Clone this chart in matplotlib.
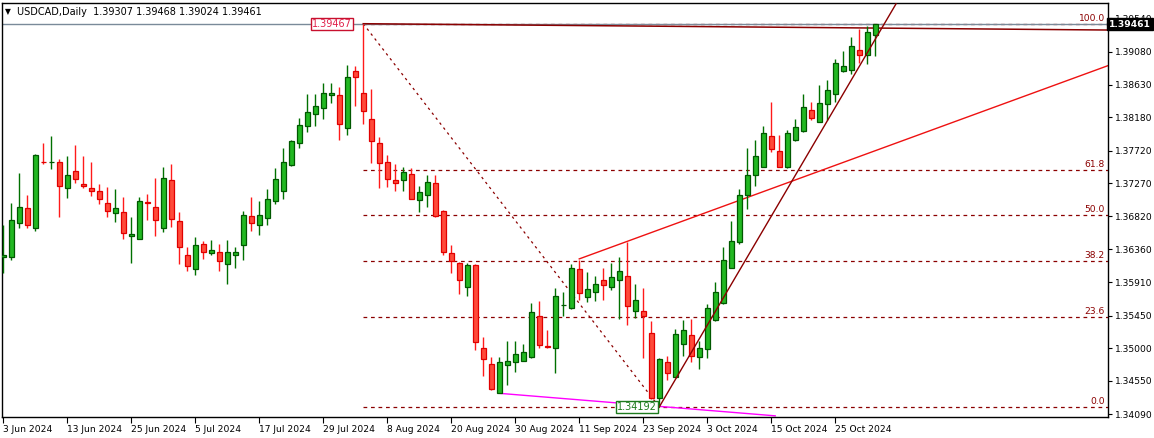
import matplotlib
matplotlib.use("Agg")
import matplotlib.pyplot as plt
import numpy as np
import pandas as pd

dates = pd.bdate_range("2024-06-03", periods=110)
opens = [1.3625,1.3625,1.3673,1.3693,1.3666,1.3757,1.3756,1.3757,1.3720,1.3744,
         1.3726,1.3720,1.3716,1.3700,1.3686,1.3687,1.3654,1.3650,1.3701,1.3695,
         1.3666,1.3731,1.3675,1.3629,1.3609,1.3643,1.3631,1.3633,1.3616,1.3629,
         1.3642,1.3682,1.3669,1.3679,1.3702,1.3716,1.3752,1.3782,1.3806,1.3822,
         1.3830,1.3848,1.3848,1.3803,1.3881,1.3851,1.3816,1.3783,1.3757,1.3731,
         1.3732,1.3740,1.3704,1.3711,1.3727,1.3689,1.3631,1.3617,1.3584,1.3614,
         1.3500,1.3479,1.3439,1.3477,1.3481,1.3483,1.3488,1.3544,1.3503,1.3500,
         1.3559,1.3556,1.3609,1.3570,1.3578,1.3594,1.3584,1.3594,1.3599,1.3551,
         1.3551,1.3521,1.3431,1.3481,1.3461,1.3506,1.3518,1.3488,1.3499,1.3539,
         1.3562,1.3611,1.3646,1.3711,1.3738,1.3750,1.3792,1.3772,1.3749,1.3786,
         1.3799,1.3828,1.3812,1.3836,1.3850,1.3881,1.3883,1.3910,1.3904,1.39307]
highs = [1.3670,1.3700,1.3741,1.3711,1.3767,1.3782,1.3792,1.3760,1.3765,1.3780,
         1.3765,1.3756,1.3726,1.3722,1.3719,1.3708,1.3681,1.3708,1.3712,1.3734,
         1.3749,1.3754,1.3687,1.3640,1.3653,1.3647,1.3649,1.3643,1.3649,1.3639,
         1.3689,1.3708,1.3702,1.3719,1.3748,1.3776,1.3786,1.3817,1.3850,1.3850,
         1.3865,1.3865,1.3859,1.3890,1.3888,1.39467,1.3857,1.3791,1.3766,1.3753,
         1.3749,1.3748,1.3724,1.3739,1.3738,1.3690,1.3642,1.3619,1.3618,1.3616,
         1.3515,1.3488,1.3488,1.3510,1.3510,1.3506,1.3562,1.3565,1.3525,1.3583,
         1.3577,1.3616,1.3622,1.3605,1.3600,1.3610,1.3617,1.3625,1.3646,1.3589,
         1.3583,1.3537,1.3486,1.3489,1.3526,1.3539,1.3540,1.3510,1.3561,1.3591,
         1.3639,1.3675,1.3719,1.3776,1.3786,1.3806,1.3839,1.3793,1.3801,1.3815,
         1.3850,1.3839,1.3863,1.3869,1.3898,1.3909,1.3929,1.3940,1.3944,1.39468]
lows = [1.3603,1.3621,1.3665,1.3665,1.3662,1.3753,1.3747,1.3680,1.3707,1.3727,
        1.3720,1.3709,1.3698,1.3681,1.3674,1.3650,1.3618,1.3650,1.3676,1.3655,
        1.3660,1.3667,1.3616,1.3607,1.3601,1.3623,1.3628,1.3607,1.3588,1.3611,
        1.3622,1.3662,1.3656,1.3670,1.3698,1.3705,1.3751,1.3776,1.3797,1.3806,
        1.3816,1.3838,1.3787,1.3793,1.3834,1.3809,1.3755,1.3720,1.3722,1.3717,
        1.3717,1.3705,1.3688,1.3695,1.3680,1.3629,1.3604,1.3575,1.3572,1.3498,
        1.3462,1.3442,1.3438,1.3449,1.3467,1.3482,1.3487,1.3500,1.3501,1.3466,
        1.3544,1.3554,1.3566,1.3563,1.3565,1.3566,1.3580,1.3540,1.3532,1.3541,
        1.3486,1.3430,1.34192,1.3457,1.3461,1.3489,1.3481,1.3472,1.3486,1.3537,
        1.3561,1.3610,1.3643,1.3691,1.3724,1.3749,1.3770,1.3749,1.3748,1.3785,
        1.3797,1.3814,1.3811,1.3814,1.3839,1.3880,1.3877,1.3893,1.3891,1.39024]
closes = [1.3628,1.3676,1.3694,1.3669,1.3766,1.3756,1.3757,1.3723,1.3738,1.3733,
          1.3723,1.3717,1.3705,1.3689,1.3693,1.3658,1.3657,1.3702,1.3700,1.3676,
          1.3735,1.3678,1.3639,1.3613,1.3642,1.3633,1.3635,1.3620,1.3632,1.3633,
          1.3683,1.3673,1.3683,1.3705,1.3733,1.3757,1.3785,1.3807,1.3825,1.3833,
          1.3852,1.3851,1.3808,1.3874,1.3874,1.3826,1.3785,1.3755,1.3733,1.3728,
          1.3742,1.3706,1.3715,1.3729,1.3682,1.3633,1.3620,1.3594,1.3614,1.3508,
          1.3485,1.3444,1.3481,1.3483,1.3492,1.3495,1.3550,1.3504,1.3502,1.3572,
          1.3560,1.3610,1.3576,1.3581,1.3589,1.3587,1.3598,1.3606,1.3558,1.3567,
          1.3544,1.3431,1.3485,1.3466,1.3519,1.3525,1.3489,1.3501,1.3555,1.3577,
          1.3621,1.3647,1.3711,1.3739,1.3764,1.3796,1.3774,1.3750,1.3796,1.3804,
          1.3832,1.3817,1.3837,1.3855,1.3893,1.3889,1.3916,1.3903,1.3935,1.39461]

tick_labels = ["3 Jun 2024","13 Jun 2024","25 Jun 2024","5 Jul 2024","17 Jul 2024",
               "29 Jul 2024","8 Aug 2024","20 Aug 2024","30 Aug 2024","11 Sep 2024",
               "23 Sep 2024","3 Oct 2024","15 Oct 2024","25 Oct 2024"]
price_ticks = [1.39540,1.39080,1.38630,1.38180,1.37720,1.37270,1.36820,1.36360,
               1.35910,1.35450,1.35000,1.34550,1.34090]
fib_ratios = [0.0,0.236,0.382,0.5,0.618,1.0]
fib_labels = ["0.0","23.6","38.2","50.0","61.8","100.0"]
swing_high, swing_low = 1.39467, 1.34192
i_high, i_low = 45, 82

W, H = 1154, 438
FS = 6.6
fig = plt.figure(figsize=(W/100, H/100), dpi=100)
fig.patch.set_facecolor("white")
ax = fig.add_axes([2/W, (H-417)/H, 1106/W, 414/H])
ax.set_xlim(-0.16, 138.1)
ax.set_ylim(1.34054, 1.39752)

x = np.arange(len(closes))
o = np.array(opens); c = np.array(closes); hi = np.array(highs); lo = np.array(lows)
up = c >= o
dn = ~up
ax.vlines(x[up], lo[up], hi[up], color="#007000", lw=1, zorder=3)
ax.vlines(x[dn], lo[dn], hi[dn], color="#FF1A1A", lw=1, zorder=3)
ax.bar(x[up], np.maximum(c[up]-o[up], 0.00003), bottom=o[up], width=0.62,
       color="#22B822", edgecolor="#005800", lw=0.9, zorder=4)
ax.bar(x[dn], np.maximum(o[dn]-c[dn], 0.00003), bottom=c[dn], width=0.62,
       color="#FF4A3A", edgecolor="#E00000", lw=0.9, zorder=4)

xr = ax.get_xlim()[1]
dr = "#8B0000"
rng = swing_high - swing_low
for r, lab in zip(fib_ratios, fib_labels):
    lvl = swing_low + r*rng
    ax.plot([i_high, xr], [lvl, lvl], color=dr, lw=0.9, ls=(0, (3, 3)), zorder=2)
    ax.text(xr-0.4, lvl+0.00012, lab, ha="right", va="bottom", fontsize=FS, color=dr, zorder=6)
ax.plot([i_high, i_low], [swing_high, swing_low], color=dr, lw=0.9, ls=(0, (2, 3)), zorder=2)

last = closes[-1]
ax.axhline(last, color="#7A8A99", lw=1, zorder=2)
ax.plot([i_high, xr], [swing_high, 1.3938], color=dr, lw=1.1, zorder=2)
ax.plot([72, xr], [1.3623, 1.3889], color="#EE1111", lw=1, zorder=2)
ax.plot([i_low, 111.6], [swing_low, 1.3974], color=dr, lw=1, zorder=5)
ax.plot([62, 96.5], [1.3438, 1.3407], color="#FF00FF", lw=1, zorder=2)

ax.text(43.6, swing_high, f"{swing_high:.5f}", ha="right", va="center", fontsize=FS+0.4,
        color="#E0204A", zorder=7,
        bbox=dict(boxstyle="square,pad=0.1", fc="white", ec="#C8102E", lw=1))
ax.text(79.2, swing_low, f"{swing_low:.5f}", ha="center", va="center", fontsize=FS+0.4,
        color="#1E7B1E", zorder=7,
        bbox=dict(boxstyle="square,pad=0.1", fc="white", ec="#1E7B1E", lw=1))

for s in ax.spines.values():
    s.set_color("black"); s.set_linewidth(1)
ax.yaxis.tick_right()
ax.set_yticks(price_ticks)
ax.set_yticklabels([f"{p:.5f}" for p in price_ticks], fontsize=FS)
ax.tick_params(axis="y", length=3, pad=2)
ax.set_xticks(np.arange(0, 110, 8))
ax.set_xticklabels(tick_labels, fontsize=FS, ha="left")
ax.tick_params(axis="x", length=4, pad=2)
ax.text(1.001, (last-1.34054)/(1.39752-1.34054), f"{last:.5f}", transform=ax.transAxes,
        ha="left", va="center", fontsize=FS, color="white", fontweight="bold", zorder=8,
        bbox=dict(boxstyle="square,pad=0.2", fc="black", ec="black"), clip_on=False)
fig.text(5/W, 1-12/H, "\u25BC", fontsize=5.5, va="center")
fig.text(17/W, 1-12/H, "USDCAD,Daily  1.39307 1.39468 1.39024 1.39461", fontsize=FS+0.4, va="center")
fig.savefig("out.png", dpi=100)
